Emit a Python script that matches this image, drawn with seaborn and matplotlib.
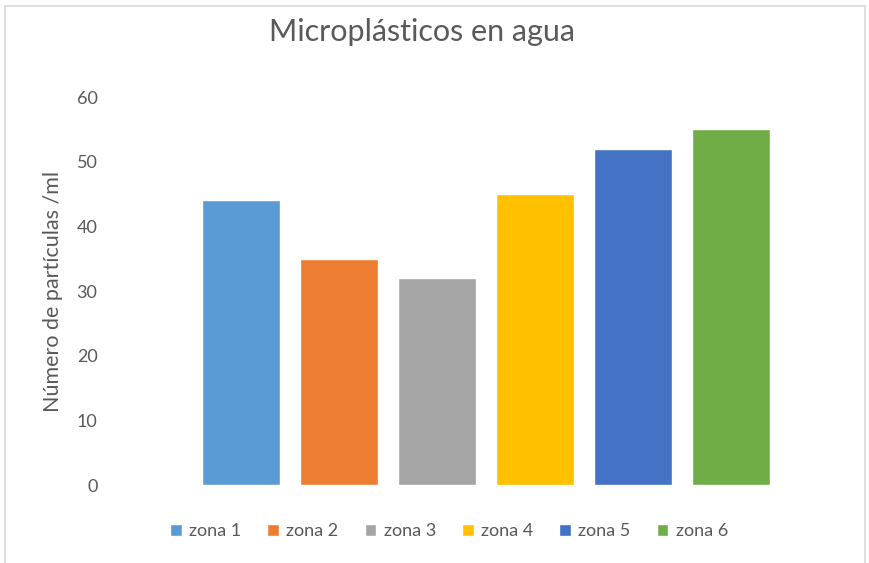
import matplotlib
matplotlib.use("Agg")
import matplotlib.pyplot as plt
import seaborn as sns
import pandas as pd
from matplotlib.patches import Rectangle

zonas = ["zona 1", "zona 2", "zona 3", "zona 4", "zona 5", "zona 6"]
valores = [44, 35, 32, 45, 52, 55]
colores = ["#5B9BD5", "#ED7D31", "#A5A5A5", "#FFC000", "#4472C4", "#70AD47"]
titulo = "Microplásticos en agua"
etiqueta_y = "Número de partículas /ml"
yticks = [0, 10, 20, 30, 40, 50, 60]

sns.set_theme(style="white")
plt.rcParams['font.family'] = ['Lato', 'DejaVu Sans']
gris = "#595959"

df = pd.DataFrame({"zona": zonas, "valor": valores})

fig = plt.figure(figsize=(8.7, 5.63), dpi=100)
ax = fig.add_axes([110/870, 1-485/563, 752/870, (485-97)/563])
sns.barplot(data=df, x="zona", y="valor", hue="zona", palette=colores,
            dodge=False, width=0.79, ax=ax, legend=True, saturation=1)

ax.set_xlim(-1.337, 6.337)
ax.set_ylim(0, 60)
ax.set_yticks(yticks)
ax.set_yticklabels([str(t) for t in yticks], color=gris, fontsize=13)
ax.tick_params(axis='y', length=0, pad=9)
ax.set_xticks([])
ax.set_xlabel("")
ax.set_ylabel(etiqueta_y, color=gris, fontsize=15.5, labelpad=10)
for s in ax.spines.values():
    s.set_visible(False)

fig.text(422/870, 1-32/563, titulo, ha="center", va="center", fontsize=22, color=gris)

handles, labels = ax.get_legend_handles_labels()
ax.legend_.remove()
leg = fig.legend(handles, labels, loc="center", bbox_to_anchor=(449/870, 1-531/563),
                 ncol=6, frameon=False, fontsize=13, handlelength=0.65, handleheight=0.65,
                 handletextpad=0.4, columnspacing=1.45, labelcolor=gris)

fig.patches.append(Rectangle((5/870, -0.05), 860/870, 1.05-6/563, transform=fig.transFigure,
                             fill=False, edgecolor="#D9D9D9", linewidth=1.2, zorder=0))

fig.savefig("out.png", dpi=100)
